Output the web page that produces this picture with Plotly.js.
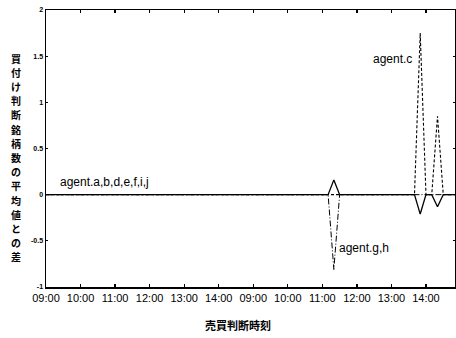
<!DOCTYPE html>
<html>
<head>
<meta charset="utf-8">
<script src="https://cdn.plot.ly/plotly-3.0.1.min.js"></script>
<style>html,body{margin:0;padding:0;background:#fff;}#chart{width:456px;height:338px;}</style>
</head>
<body>
<div id="chart"></div>
<script>
// x positions in hour-steps from the first 09:00 tick (two trading days, 09:00-14:00 each)
const tickLabels = ["09:00","10:00","11:00","12:00","13:00","14:00","09:00","10:00","11:00","12:00","13:00","14:00"];
const tickPos = [0,1,2,3,4,5,6,7,8,9,10,11];
const timeIdx = [0, 8.167, 8.333, 8.5, 10.667, 10.833, 11.0, 11.167, 11.333, 11.5, 11.9];
const agentsABDEFIJ = [0, 0, 0.16, 0, 0, -0.21, 0, 0, -0.13, 0, 0];
const agentsGH      = [0, 0, -0.81, 0, 0, 0, 0, 0, 0, 0, 0];
const agentC        = [0, 0, 0, 0, 0, 1.75, 0, 0, 0.85, 0, 0];
const yTicks = [-1, -0.5, 0, 0.5, 1, 1.5, 2];
const yTickText = ["-1", "-0.5", "0", "0.5", "1", "1.5", "2"];
const yTitle = "買付け判断銘柄数の平均値との差";
const xTitle = "売買判断時刻";

const traces = [
  {x: timeIdx, y: agentsGH, mode: 'lines', line: {color: '#000', width: 1, dash: '6px,2px,1px,2px'}, hoverinfo: 'skip'},
  {x: timeIdx, y: agentC, mode: 'lines', line: {color: '#000', width: 1.1, dash: '3px,2px'}, hoverinfo: 'skip'},
  {x: timeIdx, y: agentsABDEFIJ, mode: 'lines', line: {color: '#000', width: 1.3}, hoverinfo: 'skip'}
];

const axisCommon = {showgrid: false, zeroline: false, showline: true, linecolor: '#000', linewidth: 1.5, mirror: 'ticks', ticks: 'inside', ticklen: 3, tickcolor: '#000', tickwidth: 1.2};

const sans = 'Liberation Sans, Arial, sans-serif';
const cjk = 'Noto Sans CJK JP, sans-serif';

const annotations = [
  {xref: 'x', yref: 'y', x: 1.69, y: 0.14, text: 'agent.a,b,d,e,f,i,j', showarrow: false,
   font: {family: sans, size: 12, color: '#000'}},
  {xref: 'x', yref: 'y', x: 10.04, y: 1.47, text: 'agent.c', showarrow: false,
   font: {family: sans, size: 12, color: '#000'}},
  {xref: 'x', yref: 'y', x: 9.22, y: -0.575, text: 'agent.g,h', showarrow: false,
   font: {family: sans, size: 12, color: '#000'}},
  {xref: 'paper', yref: 'paper', x: 0.469, y: -0.137, xanchor: 'center', yanchor: 'middle',
   text: xTitle, showarrow: false,
   font: {family: cjk, size: 11, color: '#000', weight: 'bold'}}
];
// vertical (stacked) y-axis title, one character per line
const plotTop = 10, plotH = 277;
Array.from(yTitle).forEach((ch, i) => {
  const py = 58 + i * 14.2; // pixel centre
  annotations.push({xref: 'paper', yref: 'paper', x: -0.073, y: (plotTop + plotH - py) / plotH,
    xanchor: 'center', yanchor: 'middle', text: ch, showarrow: false, borderpad: 0,
    font: {family: cjk, size: 10, color: '#000', weight: 'bold'}});
});

const layout = {
  width: 456, height: 338,
  margin: {l: 46, r: 1, t: 10, b: 51},
  paper_bgcolor: '#fff', plot_bgcolor: '#fff',
  showlegend: false,
  xaxis: Object.assign({}, axisCommon, {
    range: [0, 11.84], tickvals: tickPos, ticktext: tickLabels,
    tickfont: {family: sans, size: 11, color: '#000'}
  }),
  yaxis: Object.assign({}, axisCommon, {
    range: [-1, 2], tickvals: yTicks, ticktext: yTickText, ticklen: 2,
    tickfont: {family: sans, size: 7, color: '#000', weight: 'bold'}
  }),
  annotations: annotations
};

Plotly.newPlot('chart', traces, layout, {staticPlot: true, displayModeBar: false});
</script>
</body>
</html>
